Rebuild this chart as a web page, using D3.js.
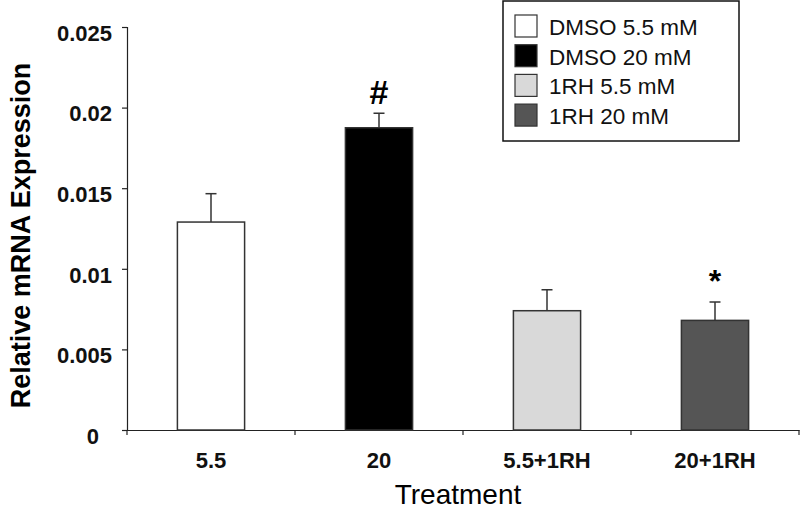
<!DOCTYPE html>
<html lang="en">
<head>
    <meta charset="UTF-8">
    <title>Relative mRNA Expression</title>
    <style>
        body { margin: 0; background: #fff; }
        svg { display: block; font-family: 'Liberation Sans', Arial, sans-serif; }
        .axis path, .axis line { stroke: #222; stroke-width: 1.2; }
        .axis text { fill: #111; }
    </style>
</head>
<body>
    <div id="chart"></div>

    <script src="https://d3js.org/d3.v7.min.js"></script>
    <script>
        // data
        const categories = ["5.5", "20", "5.5+1RH", "20+1RH"];
        const means = [0.0129, 0.01875, 0.0074, 0.0068];
        const errors = [0.00176, 0.0009, 0.0013, 0.00114];
        const marks = ["", "#", "", "*"];
        const legendLabels = ["DMSO 5.5 mM", "DMSO 20 mM", "1RH 5.5 mM", "1RH 20 mM"];
        const fills = ["#ffffff", "#000000", "#d9d9d9", "#555555"];
        const yTicks = [0, 0.005, 0.01, 0.015, 0.02, 0.025];

        const width = 800, height = 510;
        const margin = { top: 27, right: 1, bottom: 80, left: 127 };

        const svg = d3.select("#chart").append("svg")
            .attr("width", width)
            .attr("height", height);

        const x = d3.scaleBand()
            .domain(categories)
            .range([margin.left, width - margin.right])
            .padding(0);

        const y = d3.scaleLinear()
            .domain([0, 0.025])
            .range([height - margin.bottom, margin.top]);

        // y axis
        const yAxis = svg.append("g")
            .attr("class", "axis")
            .attr("transform", `translate(${margin.left},0)`)
            .call(d3.axisLeft(y).tickValues(yTicks).tickSize(5).tickPadding(10)
                .tickFormat(d => d === 0 ? "0" : String(+d.toFixed(3))));
        yAxis.selectAll("text")
            .attr("font-size", 22)
            .attr("font-weight", "bold")
            .attr("dy", "0.6em")
            .filter(d => d === 0)
            .attr("x", -28);

        // x axis
        const xAxis = svg.append("g")
            .attr("class", "axis")
            .attr("transform", `translate(0,${y(0)})`)
            .call(d3.axisBottom(x).tickSize(0).tickPadding(0));
        xAxis.selectAll("text")
            .attr("font-size", 22)
            .attr("font-weight", "bold")
            .attr("y", 38)
            .attr("dy", 0);
        // category boundary ticks
        xAxis.selectAll(".edge")
            .data(categories.concat(["end"]))
            .join("line")
            .attr("class", "edge")
            .attr("x1", (d, i) => margin.left + i * x.bandwidth())
            .attr("x2", (d, i) => margin.left + i * x.bandwidth())
            .attr("y1", 0)
            .attr("y2", 5);

        // bars
        const barW = x.bandwidth() * 0.4;
        const bars = svg.append("g");
        bars.selectAll("rect")
            .data(categories)
            .join("rect")
            .attr("x", d => x(d) + (x.bandwidth() - barW) / 2)
            .attr("y", (d, i) => y(means[i]))
            .attr("width", barW)
            .attr("height", (d, i) => y(0) - y(means[i]))
            .attr("fill", (d, i) => fills[i])
            .attr("stroke", "#333")
            .attr("stroke-width", 1.5);

        // upper error bars
        const err = svg.append("g")
            .attr("stroke", "#333")
            .attr("stroke-width", 1.5);
        categories.forEach((c, i) => {
            const cx = x(c) + x.bandwidth() / 2;
            err.append("line")
                .attr("x1", cx).attr("x2", cx)
                .attr("y1", y(means[i])).attr("y2", y(means[i] + errors[i]));
            err.append("line")
                .attr("x1", cx - 5.5).attr("x2", cx + 5.5)
                .attr("y1", y(means[i] + errors[i])).attr("y2", y(means[i] + errors[i]));
        });

        // significance marks
        svg.append("g").selectAll("text")
            .data(categories)
            .join("text")
            .attr("x", d => x(d) + x.bandwidth() / 2)
            .attr("y", (d, i) => y(means[i] + errors[i]) - (marks[i] === "*" ? 10 : 9))
            .attr("text-anchor", "middle")
            .attr("font-size", (d, i) => marks[i] === "*" ? 32 : 34)
            .attr("font-weight", "bold")
            .text((d, i) => marks[i]);

        // axis titles
        svg.append("text")
            .attr("transform", `translate(30,${(y(0) + y(0.025)) / 2 + 7}) rotate(-90)`)
            .attr("text-anchor", "middle")
            .attr("font-size", 27)
            .attr("font-weight", "bold")
            .text("Relative mRNA Expression");

        svg.append("text")
            .attr("x", 458)
            .attr("y", 504)
            .attr("text-anchor", "middle")
            .attr("font-size", 28)
            .text("Treatment");

        // legend
        const legend = svg.append("g");
        legend.append("rect")
            .attr("x", 503).attr("y", 1)
            .attr("width", 236).attr("height", 140)
            .attr("fill", "#fff")
            .attr("stroke", "#111")
            .attr("stroke-width", 1.5);
        const rows = legend.selectAll("g.row")
            .data(legendLabels)
            .join("g")
            .attr("class", "row")
            .attr("transform", (d, i) => `translate(515,${15 + i * 29.7})`);
        rows.append("rect")
            .attr("width", 22).attr("height", 22)
            .attr("fill", (d, i) => fills[i])
            .attr("stroke", "#333")
            .attr("stroke-width", 1.2);
        rows.append("text")
            .attr("x", 34)
            .attr("y", 20)
            .attr("font-size", 22.5)
            .attr("fill", "#111")
            .text(d => d);
    </script>
</body>
</html>
